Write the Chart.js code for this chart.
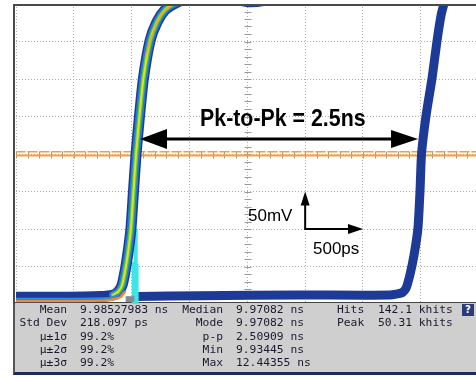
<!DOCTYPE html>
<html>
<head>
<meta charset="utf-8">
<script src="https://cdn.jsdelivr.net/npm/chart.js@4.4.1/dist/chart.umd.min.js"></script>
<style>
html, body { margin: 0; padding: 0; background: #fff; overflow: hidden; }
#wrap { position: relative; width: 476px; height: 377px; }
#plot { position: absolute; left: 0; top: 0; width: 476px; height: 304px; }
#panel { position: absolute; left: 13px; top: 302px; width: 463px; height: 69px;
  background: #cfcfcf; border-left: 2px solid #555; border-top: 1px solid #444; border-bottom: 3px solid #1c2a5c; box-sizing: content-box; }
.note { position: absolute; font-family: "Liberation Sans", Arial, sans-serif; color: #000; white-space: nowrap; }
.stat { position: absolute; font-family: "DejaVu Sans Mono", monospace; font-size: 11.3px; line-height: 13px; color: #1a1a2e; white-space: nowrap; }
.r { text-align: right; }
#help { position: absolute; left: 462px; top: 304px; width: 12px; height: 12px; background: #2b3b7b;
  color: #fff; font: bold 10px "DejaVu Sans", sans-serif; line-height: 12px; text-align: center; }
</style>
</head>
<body>
<div id="wrap">
  <div id="panel"></div>
  <div id="plot"><canvas id="scope"></canvas></div>
  <div id="help">?</div>
</div>
<script>
// horizontal: 500 ps per division, vertical: 50 mV per division
const divNs = 0.5;
const divMv = 50;
const xMaxNs = 3.977;

// left (early) edge, density trace
const leftEdgeNs = [0, 0.38, 0.73, 0.84, 0.882, 0.917, 0.942, 0.968, 0.994, 1.016, 1.038, 1.068, 1.102, 1.159, 1.219, 1.288, 1.375, 1.50, 1.89, 2.02, 2.15, 2.37];
const leftEdgeMv = [-191, -191, -190, -188, -184, -175, -157, -132, -99, -49, 0, 51, 101, 151, 176, 192, 201, 208, 206, 203, 205, 213];
const leftRiseStart = 3; // inner colours only where the edge rises

// densest part of the early edge
const leftCoreNs = [0, 0.4, 0.8, 0.9, 0.94];
const leftCoreMv = [-196, -196, -195, -191, -184];
const leftMidNs = [0, 0.4, 0.8, 0.88];
const leftMidMv = [-193, -193, -192, -188];
const leftTopNs = [1.12, 1.16, 1.22, 1.29, 1.38];
const leftTopMv = [130, 151, 176, 192, 201];

// right (late) edge
const rightEdgeNs = [1.046, 1.59, 2.455, 3.234, 3.337, 3.372, 3.406, 3.441, 3.475, 3.493, 3.506, 3.545, 3.597, 3.640, 3.675, 3.701, 3.727];
const rightEdgeMv = [-190, -189, -188, -188, -185, -179, -161, -135, -99, -49, 0, 51, 101, 151, 185, 201, 216];

// crossing-time histogram
const histNs = [1.003, 1.012, 1.020, 1.029, 1.038, 1.046];
const histMv = [-145, -144, -115, -99, -100, -147];
const histMarkNs = [1.02];

// histogram window
const windowMv = [3, -2];

// Pk-to-Pk arrow and scale indicator
const pkArrowNs = [1.072, 3.476];
const pkArrowMv = 20;
const scaleOrigin = [2.5, -100];

const statRows = [
  ['Mean', '9.98527983 ns', 'Median', '9.97082 ns', 'Hits', '142.1 khits'],
  ['Std Dev', '218.097 ps', 'Mode', '9.97082 ns', 'Peak', '50.31 khits'],
  ['\u00b5\u00b11\u03c3', '99.2%', 'p-p', '2.50909 ns', '', ''],
  ['\u00b5\u00b12\u03c3', '99.2%', 'Min', '9.93445 ns', '', ''],
  ['\u00b5\u00b13\u03c3', '99.2%', 'Max', '12.44355 ns', '', '']
];

function pts(xs, ys) {
  return xs.map((x, i) => ({ x: x, y: ys[i] }));
}

function trace(xs, ys, color, width) {
  return {
    type: 'line', data: pts(xs, ys), borderColor: color, borderWidth: width,
    pointRadius: 0, tension: 0.2, fill: false, borderCapStyle: 'round', borderJoinStyle: 'round'
  };
}

// add labels and status text as html
const wrap = document.getElementById('wrap');
function addText(cls, text, left, top, extra) {
  const d = document.createElement('div');
  d.className = cls;
  d.textContent = text;
  d.style.left = left + 'px';
  d.style.top = top + 'px';
  if (extra) Object.assign(d.style, extra);
  wrap.appendChild(d);
  return d;
}

addText('note', 'Pk-to-Pk = 2.5ns', 200, 106, { fontSize: '24px', fontWeight: 'bold', lineHeight: '24px', transform: 'scaleX(0.89)', transformOrigin: 'left top' });
addText('note', '50mV', 248, 207, { fontSize: '17px', lineHeight: '17px' });
addText('note', '500ps', 313, 240, { fontSize: '17px', lineHeight: '17px' });

statRows.forEach((row, i) => {
  const top = 303 + i * 13.33;
  addText('stat r', row[0], 0, top, { width: '67px' });
  addText('stat', row[1], 80, top);
  addText('stat r', row[2], 150, top, { width: '73px' });
  addText('stat', row[3], 236, top);
  if (row[4]) addText('stat', row[4], 337, top);
  if (row[5]) addText('stat', row[5], 378, top);
});

function arrowHead(ctx, x, y, dx, dy, len, half) {
  // dx,dy unit direction toward tip
  ctx.beginPath();
  ctx.moveTo(x, y);
  ctx.lineTo(x - dx * len - dy * half, y - dy * len + dx * half);
  ctx.lineTo(x - dx * len + dy * half, y - dy * len - dx * half);
  ctx.closePath();
  ctx.fill();
}

const scopeDecor = {
  id: 'scopeDecor',
  beforeDatasetsDraw(chart) {
    const ctx = chart.ctx;
    const xs = chart.scales.x, ys = chart.scales.y;
    const cx = Math.round(xs.getPixelForValue(4 * divNs)) + 0.5;
    const cy = Math.round(ys.getPixelForValue(0)) + 0.5;
    ctx.save();
    ctx.strokeStyle = '#9a9a9a';
    ctx.lineWidth = 1;
    ctx.beginPath();
    for (let v = ys.min; v <= ys.max; v += divMv / 5) {
      const y = Math.round(ys.getPixelForValue(v)) + 0.5;
      ctx.moveTo(cx - 3, y); ctx.lineTo(cx + 4, y);
    }
    for (let v = 0; v <= xs.max; v += divNs / 5) {
      const x = Math.round(xs.getPixelForValue(v)) + 0.5;
      ctx.moveTo(x, cy - 3); ctx.lineTo(x, cy + 4);
    }
    ctx.stroke();
    ctx.restore();
  },
  afterDatasetsDraw(chart) {
    const ctx = chart.ctx;
    const xs = chart.scales.x, ys = chart.scales.y;
    const area = chart.chartArea;
    ctx.save();
    // frame
    ctx.strokeStyle = '#4a4a4a';
    ctx.lineWidth = 2;
    ctx.beginPath();
    ctx.moveTo(14, area.bottom);
    ctx.lineTo(14, area.top + 1);
    ctx.lineTo(area.right, area.top + 1);
    ctx.stroke();

    // Pk-to-Pk double arrow
    const ay = ys.getPixelForValue(pkArrowMv);
    const ax1 = xs.getPixelForValue(pkArrowNs[0]);
    const ax2 = xs.getPixelForValue(pkArrowNs[1]);
    ctx.strokeStyle = '#000';
    ctx.fillStyle = '#000';
    ctx.lineWidth = 3;
    ctx.beginPath();
    ctx.moveTo(ax1 + 20, ay); ctx.lineTo(ax2 - 20, ay);
    ctx.stroke();
    arrowHead(ctx, ax1, ay, -1, 0, 27, 10);
    arrowHead(ctx, ax2, ay, 1, 0, 27, 9);

    // scale indicator: one division each way
    const ox = xs.getPixelForValue(scaleOrigin[0]);
    const oy = ys.getPixelForValue(scaleOrigin[1]);
    const tx = xs.getPixelForValue(scaleOrigin[0] + divNs);
    const ty = ys.getPixelForValue(scaleOrigin[1] + divMv);
    ctx.lineWidth = 2;
    ctx.beginPath();
    ctx.moveTo(ox, ty + 10); ctx.lineTo(ox, oy); ctx.lineTo(tx - 12, oy);
    ctx.stroke();
    arrowHead(ctx, ox, ty, 0, -1, 14, 4.5);
    arrowHead(ctx, tx, oy, 1, 0, 15, 5);
    ctx.restore();
  }
};

const riseNs = leftEdgeNs.slice(leftRiseStart);
const riseMv = leftEdgeMv.slice(leftRiseStart);

// listed bottom layer first
const datasets = [
  Object.assign(trace([0, xMaxNs], [windowMv[0], windowMv[0]], '#f3a043', 1.6), { borderDash: [9, 3], tension: 0 }),
  Object.assign(trace([0, xMaxNs], [windowMv[1], windowMv[1]], '#f3a043', 2), { tension: 0 }),
  trace(rightEdgeNs, rightEdgeMv, '#1d3a96', 9),
  {
    type: 'bar', data: histNs.map((x, i) => ({ x: x, y: [-200, histMv[i]] })),
    backgroundColor: '#3ee6e6', barThickness: 1.3, borderWidth: 0
  },
  {
    type: 'bar', data: histMarkNs.map(x => ({ x: x, y: [-197, -190] })),
    backgroundColor: '#8a8a8a', barThickness: 8, borderWidth: 0
  },
  trace(leftEdgeNs, leftEdgeMv, '#1d3a96', 11),
  trace(riseNs, riseMv, '#2478d8', 8),
  trace(riseNs, riseMv, '#52cc3a', 4.5),
  trace(riseNs, riseMv, '#e8dc2a', 2),
  trace(leftMidNs, leftMidMv, '#2a8ee0', 2),
  trace(leftCoreNs, leftCoreMv, '#f08a2a', 2.5),
  trace(leftTopNs, leftTopMv, '#f2a030', 1.5)
];
datasets.forEach((d, i) => { d.order = datasets.length - i; });

new Chart(document.getElementById('scope'), {
  type: 'line',
  data: { datasets: datasets },
  options: {
    responsive: true,
    maintainAspectRatio: false,
    animation: false,
    layout: { padding: { left: 16, top: 4, right: 0, bottom: 0 } },
    plugins: { legend: { display: false }, tooltip: { enabled: false } },
    scales: {
      x: {
        type: 'linear', min: 0, max: xMaxNs, offset: false,
        ticks: { display: false, stepSize: divNs },
        grid: { color: '#ababab', drawTicks: false, lineWidth: 1, offset: false },
        border: { display: false, dash: [1, 2] },
        afterBuildTicks(scale) {
          scale.ticks = scale.ticks.filter(t => Math.abs(t.value / divNs - Math.round(t.value / divNs)) < 1e-6);
        },
        afterFit(scale) { scale.height = 0; }
      },
      y: {
        type: 'linear', min: -4 * divMv, max: 4 * divMv,
        ticks: { display: false, stepSize: divMv },
        grid: { color: '#ababab', drawTicks: false, lineWidth: 1 },
        border: { display: false, dash: [1, 2] },
        afterFit(scale) { scale.width = 0; }
      }
    }
  },
  plugins: [scopeDecor]
});
</script>
</body>
</html>
